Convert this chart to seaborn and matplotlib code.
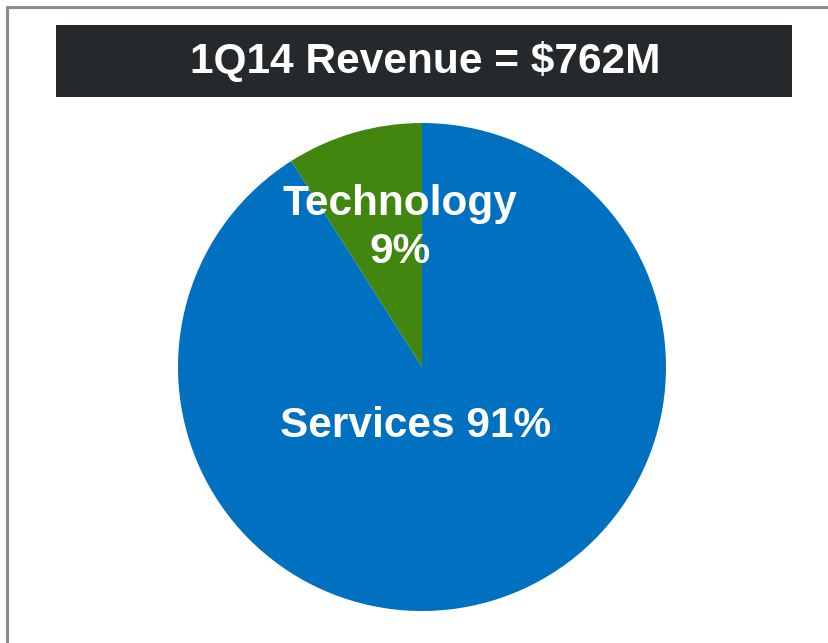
import matplotlib
matplotlib.use("Agg")
import matplotlib.pyplot as plt
from matplotlib.patches import Rectangle
from matplotlib.lines import Line2D
import seaborn as sns

# Daten
segmente = ["Technology", "Services"]
anteile = [9, 91]
farben = ["#41870f", "#0070c0"]
titel = "1Q14 Revenue = $762M"

sns.set_theme(style="white")
plt.rcParams['font.family'] = ['Liberation Sans', 'DejaVu Sans']

W, H = 829, 643
fig = plt.figure(figsize=(W / 100, H / 100), dpi=100)
fig.patch.set_facecolor("white")

# Rahmen oben und links
fig.add_artist(Line2D([7.5 / W, 1], [1 - 6.5 / H, 1 - 6.5 / H], color="#8c8c8c", lw=2.2,
                      transform=fig.transFigure))
fig.add_artist(Line2D([7.5 / W, 7.5 / W], [0, 1 - 6.5 / H], color="#8c8c8c", lw=2.2,
                      transform=fig.transFigure))

# Titelbalken
fig.add_artist(Rectangle((56 / W, 1 - 97 / H), (792 - 56) / W, (97 - 25) / H,
                         facecolor="#26292c", edgecolor="none", transform=fig.transFigure))
fig.text(425 / W, 1 - 62 / H, titel, color="white", fontsize=30.5, fontweight="bold",
         ha="center", va="center")

# Kreisdiagramm
ax = fig.add_axes([178 / W, 32 / H, 488 / W, 488 / H])
ax.pie(anteile, colors=farben, startangle=90, counterclock=True,
       wedgeprops=dict(linewidth=0))
ax.set_xlim(-1, 1)
ax.set_ylim(-1, 1)
ax.set_aspect("equal")
ax.axis("off")

fig.text(400 / W, 1 - 228 / H, f"{segmente[0]}\n{anteile[0]}%", color="white", fontsize=30.5,
         fontweight="bold", ha="center", va="center", linespacing=1.25)
fig.text(416 / W, 1 - 426 / H, f"{segmente[1]} {anteile[1]}%", color="white", fontsize=30.5,
         fontweight="bold", ha="center", va="center")

fig.savefig("out.png", dpi=100)
